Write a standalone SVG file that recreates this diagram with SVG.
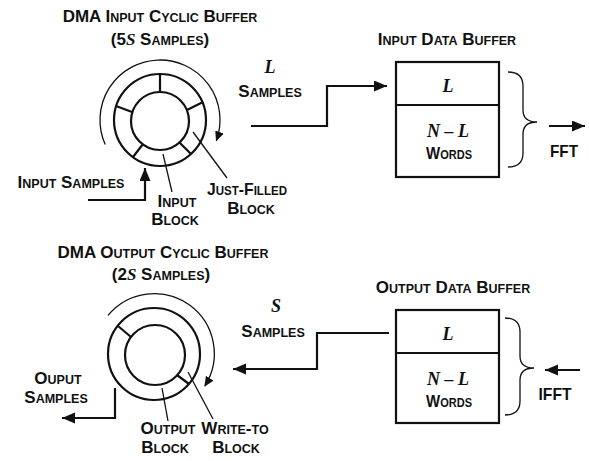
<svg xmlns="http://www.w3.org/2000/svg" width="589" height="461" viewBox="0 0 589 461">
<defs>
<style>
.t{font-family:"Liberation Sans",Arial,sans-serif;font-weight:bold;font-size:17px;fill:#111;text-anchor:middle}
.sc{font-size:12.5px}
.v{font-family:"Liberation Serif","Times New Roman",serif;font-style:italic;font-weight:bold;font-size:18px;fill:#111;text-anchor:middle}
.vi{font-family:"Liberation Serif","Times New Roman",serif;font-style:italic;font-weight:bold}
.ln{fill:none;stroke:#111;stroke-width:2.2}
.thin{fill:none;stroke:#111;stroke-width:1.3}
.ring{fill:#fff;stroke:#111;stroke-width:2.2}
</style>
<marker id="ah" markerUnits="userSpaceOnUse" markerWidth="14" markerHeight="12" refX="13" refY="5.5" orient="auto">
<path d="M0,0 L13,5.5 L0,11 z" fill="#111"/>
</marker>
<marker id="ahs" markerUnits="userSpaceOnUse" markerWidth="11" markerHeight="10" refX="9" refY="4.5" orient="auto">
<path d="M0,0 L10,4.5 L0,9 z" fill="#111"/>
</marker>
</defs>
<rect width="589" height="461" fill="#fff"/>

<g id="input-cyclic-buffer">
<text class="t" x="160" y="22">DMA I<tspan class="sc">NPUT</tspan> C<tspan class="sc">YCLIC</tspan> B<tspan class="sc">UFFER</tspan></text>
<text class="t" x="160" y="45">(5<tspan class="vi">S</tspan> S<tspan class="sc">AMPLES</tspan>)</text>
<path class="thin" d="M105.2,144.4 A60,60 0 1 1 216.4,140.5" marker-end="url(#ahs)"/>
<circle class="ring" cx="160" cy="120" r="46"/>
<circle class="ring" cx="160" cy="121" r="29"/>
<g class="ln">
<line x1="160" y1="92" x2="160" y2="74"/>
<line x1="187" y1="110" x2="203" y2="102"/>
<line x1="179" y1="142" x2="191" y2="154"/>
<line x1="143" y1="144" x2="133" y2="157"/>
<line x1="132" y1="112" x2="116" y2="106"/>
</g>
<line class="thin" x1="163" y1="154" x2="172" y2="192"/>
<line class="thin" x1="193" y1="132" x2="227" y2="178"/>
<text class="t" x="177" y="207">I<tspan class="sc">NPUT</tspan></text>
<text class="t" x="175" y="225">B<tspan class="sc">LOCK</tspan></text>
<text class="t" x="247" y="195" textLength="80" lengthAdjust="spacingAndGlyphs">J<tspan class="sc">UST</tspan>-F<tspan class="sc">ILLED</tspan></text>
<text class="t" x="251" y="214">B<tspan class="sc">LOCK</tspan></text>
<text class="t" x="71" y="188">I<tspan class="sc">NPUT</tspan> S<tspan class="sc">AMPLES</tspan></text>
</g>

<g id="input-data-buffer">
<text class="t" x="447" y="45">I<tspan class="sc">NPUT</tspan> D<tspan class="sc">ATA</tspan> B<tspan class="sc">UFFER</tspan></text>
<rect class="ln" x="396" y="62" width="103" height="115"/>
<line class="ln" x1="396" y1="105" x2="499" y2="105"/>
<text class="v" x="448" y="92">L</text>
<text class="v" x="448" y="137">N – L</text>
<text class="t" x="449" y="159" textLength="46" lengthAdjust="spacingAndGlyphs">W<tspan class="sc">ORDS</tspan></text>
<path class="thin" d="M508,72 Q523,72 523,86 V110 Q523,122 537,122 Q523,122 523,134 V153 Q523,167 508,167"/>
<text class="t" x="564" y="157" textLength="28" lengthAdjust="spacingAndGlyphs">FFT</text>
</g>

<g id="output-cyclic-buffer">
<text class="t" x="163" y="258">DMA O<tspan class="sc">UTPUT</tspan> C<tspan class="sc">YCLIC</tspan> B<tspan class="sc">UFFER</tspan></text>
<text class="t" x="161" y="280">(2<tspan class="vi">S</tspan> S<tspan class="sc">AMPLES</tspan>)</text>
<path class="thin" d="M108,315.4 A60,60 0 0 1 204.9,385.8" marker-end="url(#ahs)"/>
<circle class="ring" cx="154" cy="354" r="46"/>
<circle class="ring" cx="155" cy="355" r="30"/>
<g class="ln">
<line x1="131" y1="337" x2="118" y2="326"/>
<line x1="177" y1="375" x2="189" y2="384"/>
</g>
<line class="thin" x1="162" y1="388" x2="168" y2="421"/>
<line class="thin" x1="188" y1="372" x2="213" y2="419"/>
<text class="t" x="168" y="434">O<tspan class="sc">UTPUT</tspan></text>
<text class="t" x="165" y="453">B<tspan class="sc">LOCK</tspan></text>
<text class="t" x="235" y="434">W<tspan class="sc">RITE</tspan>-<tspan class="sc">TO</tspan></text>
<text class="t" x="236" y="453">B<tspan class="sc">LOCK</tspan></text>
<text class="t" x="58" y="384">O<tspan class="sc">UPUT</tspan></text>
<text class="t" x="56" y="403">S<tspan class="sc">AMPLES</tspan></text>
</g>

<g id="output-data-buffer">
<text class="t" x="453" y="293">O<tspan class="sc">UTPUT</tspan> D<tspan class="sc">ATA</tspan> B<tspan class="sc">UFFER</tspan></text>
<rect class="ln" x="396" y="310" width="103" height="113"/>
<line class="ln" x1="396" y1="353" x2="499" y2="353"/>
<text class="v" x="448" y="340">L</text>
<text class="v" x="448" y="385">N – L</text>
<text class="t" x="449" y="407" textLength="46" lengthAdjust="spacingAndGlyphs">W<tspan class="sc">ORDS</tspan></text>
<path class="thin" d="M505,318 Q520,318 520,332 V356 Q520,368 534,368 Q520,368 520,380 V401 Q520,415 505,415"/>
<text class="t" x="555" y="400" textLength="33" lengthAdjust="spacingAndGlyphs">IFFT</text>
</g>

<g id="connectors">
<path class="ln" d="M88,200 H145 V168" marker-end="url(#ah)"/>
<path class="ln" d="M251,126 H327 V86 H387" marker-end="url(#ah)"/>
<text class="v" x="270" y="73">L</text>
<text class="t" x="270" y="97">S<tspan class="sc">AMPLES</tspan></text>
<path class="ln" d="M549,126 H585" marker-end="url(#ah)"/>
<path class="ln" d="M389,333 H317 V369 H233" marker-end="url(#ah)"/>
<text class="v" x="276" y="312">S</text>
<text class="t" x="273" y="337">S<tspan class="sc">AMPLES</tspan></text>
<path class="ln" d="M580,370 H545" marker-end="url(#ah)"/>
<path class="ln" d="M115,388 V418 H62" marker-end="url(#ah)"/>
</g>
</svg>
